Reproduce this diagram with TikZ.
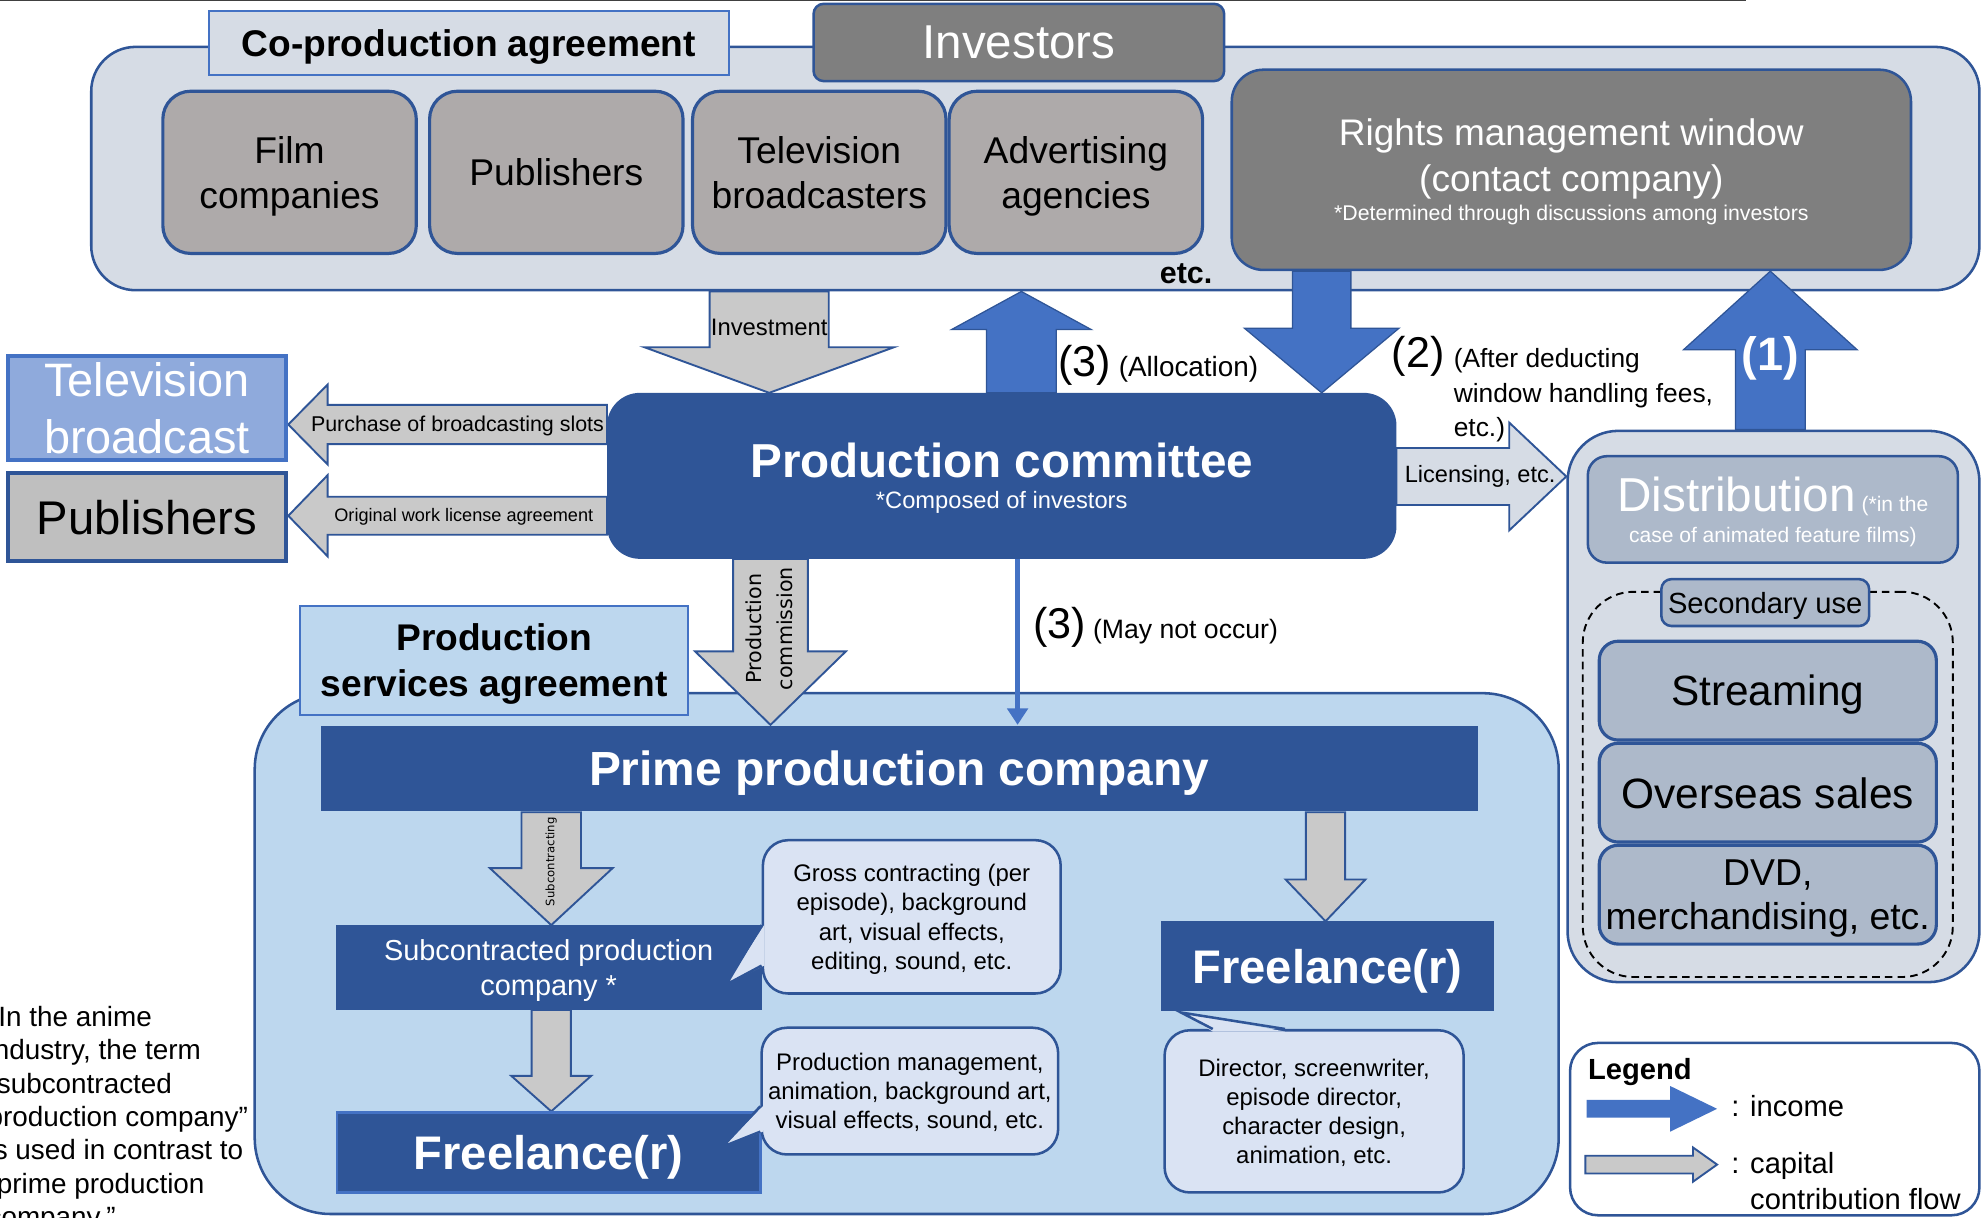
\documentclass[tikz,border=0pt]{standalone}
\usepackage{fontspec}
\setmainfont{Liberation Sans}
\newfontfamily\dejavu{DejaVu Sans}
\usetikzlibrary{calc,arrows.meta}

\definecolor{navy}{HTML}{2F5597}
\definecolor{midblue}{HTML}{4472C4}
\definecolor{panelgray}{HTML}{D6DCE5}
\definecolor{boxgray}{HTML}{AEAAAA}
\definecolor{invgray}{HTML}{7F7F7F}
\definecolor{arrowgray}{HTML}{C9C9C9}
\definecolor{skyblue}{HTML}{BDD7EE}
\definecolor{tvblue}{HTML}{8FAADC}
\definecolor{pubgray}{HTML}{BFBFBF}
\definecolor{callfill}{HTML}{DAE3F3}
\definecolor{distgray}{HTML}{ADB9CA}

\newcommand{\fsz}[2]{\fontsize{#1}{#2}\selectfont}
% block arrow: style, from, to, shaft width, head width, head length
\newcommand{\fatarrow}[6]{%
  \path[#1] let \p1=(#2), \p2=(#3),
      \n1={veclen(\x2-\x1,\y2-\y1)}, \n2={atan2(\y2-\y1,\x2-\x1)} in
    [shift={(\p1)}, rotate=\n2]
    (0pt,{#4*0.5pt}) -- ({\n1*1pt-#6*1pt},{#4*0.5pt}) -- ({\n1*1pt-#6*1pt},{#5*0.5pt})
    -- ({\n1*1pt},0pt) -- ({\n1*1pt-#6*1pt},{-#5*0.5pt}) -- ({\n1*1pt-#6*1pt},{-#4*0.5pt})
    -- (0pt,{-#4*0.5pt}) -- cycle;
}

\pgfdeclarelayer{back}
\pgfdeclarelayer{mid}
\pgfsetlayers{back,mid,main}

\begin{document}
\begin{tikzpicture}[x=1pt,y=-1pt,
    box/.style={draw=navy, line width=2pt, inner sep=0pt, align=center, text depth=0pt},
    wh/.style 2 args={minimum width=#1pt, minimum height=#2pt},
    panelbox/.style={box, fill=panelgray},
    labelbox/.style={box, draw=midblue, line width=1.5pt, fill=panelgray},
    graybox/.style={box, fill=boxgray, rounded corners=22pt, line width=2.5pt, font=\fsz{29.4}{35}},
    navybox/.style={box, fill=navy, text=white},
    callbox/.style={box, fill=callfill, rounded corners=20pt, font=\fsz{18.9}{23}},
    distbox/.style={box, fill=distgray},
    txt/.style={inner sep=0pt, align=center},
    grayarrow/.style={fill=arrowgray, draw=navy, line width=1.5pt},
    bluearrow/.style={fill=midblue, draw=navy, line width=1pt},
    lightarrow/.style={fill=panelgray, draw=navy, line width=1.5pt},
    incomearrow/.style={fill=midblue},
    thinarrow/.style={draw=midblue, line width=4pt, -{Triangle[width=16pt,length=13pt]}}]
    \useasboundingbox (0,0) rectangle (1568,961);
    \draw[line width=2pt, black!75] (0,0) -- (1378,0);

    % Panels behind everything
    \begin{pgfonlayer}{back}
        \node[panelbox, wh={1490}{192}, rounded corners=35pt] (panel) at (817,133) {};
        \node[box, fill=skyblue, wh={1029}{411}, rounded corners=60pt] (primepanel) at (715.5,752.5) {};
        \node[panelbox, wh={325}{435}, rounded corners=40pt] (distpanel) at (1399.5,557.5) {};
        \node[draw, dash pattern=on 6pt off 4pt, line width=1.5pt, rounded corners=40pt, wh={292}{304}] (secpanel) at (1395,619) {};
        \node[box, fill=white, rounded corners=22pt, wh={323}{136}] (legend) at (1400.5,891) {};
    \end{pgfonlayer}

    % Investors
    \node[labelbox, wh={410}{50}, font=\bfseries\fsz{29.3}{35}] (copro) at (370,34) {Co-production agreement};
    \node[box, fill=invgray, rounded corners=8pt, wh={324}{61}, text=white, text depth=-3pt, font=\fsz{37.5}{45}] (investors) at (804,33.5) {Investors};
    \foreach \name/\cx/\txt in {inv-film/228.5/{Film\\companies}, inv-pub/439/Publishers,
        inv-tv/646.5/{Television\\broadcasters}, inv-adv/849/{Advertising\\agencies}} {
        \node[graybox, wh={200}{128}] (\name) at (\cx,136) {\txt};
    }
    \node[box, fill=invgray, rounded corners=25pt, wh={536}{158}, text=white, text depth=-4pt, font=\fsz{29.2}{36}] (rights) at (1240,134)
        {Rights management window\\(contact company)\\[-13pt]{\fsz{16.8}{20}*Determined through discussions among investors}};
    \node[txt, font=\bfseries\fsz{24}{28}] (etc) at (936,216) {etc.};

    % Left side
    \node[box, fill=tvblue, draw=midblue, line width=3pt, wh={220}{82}, text=white, font=\fsz{37}{45}] (tvb) at (116,322) {Television\\broadcast};
    \node[box, fill=pubgray, line width=3pt, wh={220}{70}, font=\fsz{37.3}{45}] (pubs) at (116,408) {Publishers};

    % Production committee
    \node[navybox, rounded corners=25pt, wh={621}{129}, text depth=-5pt, font=\fsz{18.7}{25}] (committee) at (790.5,375.5)
        {{\bfseries\fsz{37.6}{40}Production committee}\\{}*Composed of investors};

    % Production side
    \node[labelbox, fill=skyblue, wh={306}{86}, text depth=-3pt, font=\bfseries\fsz{29.3}{36}] (psa) at (390,521) {Production\\services agreement};
    \node[navybox, draw=none, wh={913}{67}, font=\bfseries\fsz{37.8}{45}] (prime) at (709.5,606.5) {Prime production company};
    \node[navybox, wh={334}{65}, font=\fsz{22.8}{27}] (subc) at (433,763.5) {Subcontracted production\\company *};
    \node[navybox, draw=midblue, wh={334}{63}, font=\bfseries\fsz{37.2}{45}] (freel) at (433,909.5) {Freelance(r)};
    \node[navybox, wh={261}{69}, font=\bfseries\fsz{37.2}{45}] (freer) at (1047.5,762.5) {Freelance(r)};

    % Callouts
    \node[callbox, wh={235}{121}] (call-sub) at (719.5,723.5) {Gross contracting (per\\episode), background\\art, visual effects,\\editing, sound, etc.};
    \node[callbox, wh={234}{100}] (call-free) at (718,861) {Production management,\\animation, background art,\\visual effects, sound, etc.};
    \node[callbox, wh={236}{128}] (call-dir) at (1037,877) {Director, screenwriter,\\episode director,\\character design,\\animation, etc.};
    \coordinate (tip-sub) at (573,777);
    \coordinate (tip-free) at (570,905);
    \coordinate (tip-dir) at (932,799);
    \fill[callfill] ($(call-sub.north west)+(2,68)$) -- (tip-sub) -- ($(call-sub.north west)+(2,100)$) -- cycle;
    \draw[navy, line width=2pt] ($(call-sub.north west)+(0,68)$) -- (tip-sub) -- ($(call-sub.north west)+(0,100)$);
    \fill[callfill] ($(call-free.north west)+(2,63)$) -- (tip-free) -- ($(call-free.north west)+(2,83)$) -- cycle;
    \draw[navy, line width=2pt] ($(call-free.north west)+(0,63)$) -- (tip-free) -- ($(call-free.north west)+(0,83)$);
    \fill[callfill] ($(call-dir.north west)+(39,2)$) -- (tip-dir) -- ($(call-dir.north west)+(96,2)$) -- cycle;
    \draw[navy, line width=2pt] ($(call-dir.north west)+(39,0)$) -- (tip-dir) -- ($(call-dir.north west)+(96,0)$);

    % Distribution
    \node[distbox, rounded corners=15pt, wh={292}{84}, text=white, text depth=-6pt, font=\fsz{16.6}{24.5}] (dist) at (1399,402)
        {{\fsz{37.6}{40}Distribution} (*in the\\case of animated feature films)};
    \node[distbox, rounded corners=8pt, wh={164}{37}, font=\fsz{23}{27}] (secuse) at (1393,475.5) {Secondary use};
    \foreach \name/\cy/\sz/\txt in {stream/545/33.4/Streaming, overseas/625.5/33.5/Overseas sales,
        dvd/706/29.5/{DVD,\\merchandising, etc.}} {
        \node[distbox, rounded corners=15pt, line width=2.5pt, wh={266}{78}, font=\fsz{\sz}{35}] (\name) at (1395,\cy) {\txt};
    }

    % Legend
    \node[txt, anchor=west, font=\bfseries\fsz{23}{27}] (legend-title) at (1253,846) {Legend};
    \coordinate (inc-a) at (1252,875);
    \coordinate (inc-b) at (1355,875);
    \coordinate (cap-a) at (1251,919);
    \coordinate (cap-b) at (1355,919);
    \node[txt, anchor=west, font=\fsz{23}{27}] (inc-lbl) at (1366,873) {: income};
    \node[txt, anchor=west, align=left, font=\fsz{23}{28}] (cap-lbl) at (1366,932) {: capital\\\hphantom{: }contribution flow};

    % Footnote, cut at the left edge
    \node[txt, anchor=north west, align=left, font=\fsz{22}{26.3}] (note) at (-10,794)
        {*In the anime\\industry, the term\\“subcontracted\\production company”\\is used in contrast to\\“prime production\\company.”};

    % Columns and rows of the arrows
    \coordinate (c-inv) at (607,0);
    \coordinate (c-alloc) at (806,0);
    \coordinate (c-deduct) at (1043,0);
    \coordinate (c-one) at (1397,0);
    \coordinate (c-comm) at (608,0);
    \coordinate (c-may) at (803,0);
    \coordinate (c-sub) at (435,0);
    \coordinate (c-free) at (1046,0);
    \coordinate (r-purch) at (0,335);
    \coordinate (r-orig) at (0,407);
    \coordinate (r-lic) at (0,376);

    % Arrows
    \begin{pgfonlayer}{mid}
        \fatarrow{grayarrow}{panel.south -| c-inv}{committee.north -| c-inv}{94}{197}{36}
        \fatarrow{bluearrow}{committee.north -| c-alloc}{panel.south -| c-alloc}{55}{110}{30}
        \fatarrow{bluearrow}{rights.south -| c-deduct}{committee.north -| c-deduct}{46}{122}{51}
        \fatarrow{bluearrow}{distpanel.north -| c-one}{rights.south -| c-one}{55}{137}{62}
        \fatarrow{lightarrow}{committee.east |- r-lic}{distpanel.west |- r-lic}{45}{85}{45}
        \fatarrow{grayarrow}{committee.west |- r-purch}{tvb.east |- r-purch}{31}{63}{31}
        \fatarrow{grayarrow}{committee.west |- r-orig}{pubs.east |- r-orig}{30}{64}{31}
        \fatarrow{grayarrow}{committee.south -| c-comm}{prime.north -| c-comm}{59}{119}{58}
        \draw[thinarrow] (committee.south -| c-may) -- (prime.north -| c-may);
        \fatarrow{grayarrow}{prime.south -| c-sub}{subc.north -| c-sub}{47}{97}{45}
        \fatarrow{grayarrow}{subc.south -| c-sub}{freel.north -| c-sub}{31}{63}{28}
        \fatarrow{grayarrow}{prime.south -| c-free}{freer.north -| c-free}{31}{63}{33}
        \fatarrow{incomearrow}{inc-a}{inc-b}{14}{36}{37}
        \fatarrow{grayarrow}{cap-a}{cap-b}{14}{27}{19}
    \end{pgfonlayer}

    % Arrow labels
    \node[txt, font=\fsz{18.8}{22}] (inv-lbl) at (607,258) {Investment};
    \node[txt, font=\fsz{16.9}{20}] (purch-lbl) at (361,336) {Purchase of broadcasting slots};
    \node[txt, font=\fsz{14.3}{18}] (orig-lbl) at (366,408) {Original work license agreement};
    \node[txt, font=\fsz{18.6}{22}] (lic-lbl) at (1168,376) {Licensing, etc.};
    \node[txt, rotate=90, font=\dejavu\fsz{16.3}{24}] (comm-lbl) at (607,496) {Production\\commission};
    \node[txt, rotate=90, font=\dejavu\fsz{9.2}{11}] (sub-lbl) at (435,680) {Subcontracting};
    \node[txt, text=white, font=\bfseries\fsz{37}{44}] (one-lbl) at (1397,283) {(1)};
    \node[txt, anchor=base west, font=\fsz{22}{26}] (alloc-lbl) at (835,297) {{\fsz{34}{40}(3)} (Allocation)};
    \node[txt, font=\fsz{34}{40}] (two-lbl) at (1119,281) {(2)};
    \node[txt, anchor=north west, align=left, font=\fsz{20.8}{27}] (deduct-lbl) at (1147,275) {(After deducting\\window handling fees,\\etc.)};
    \node[txt, anchor=base west, font=\fsz{21}{25}] (may-lbl) at (815,504) {{\fsz{34}{40}(3)} (May not occur)};
\end{tikzpicture}
\end{document}
